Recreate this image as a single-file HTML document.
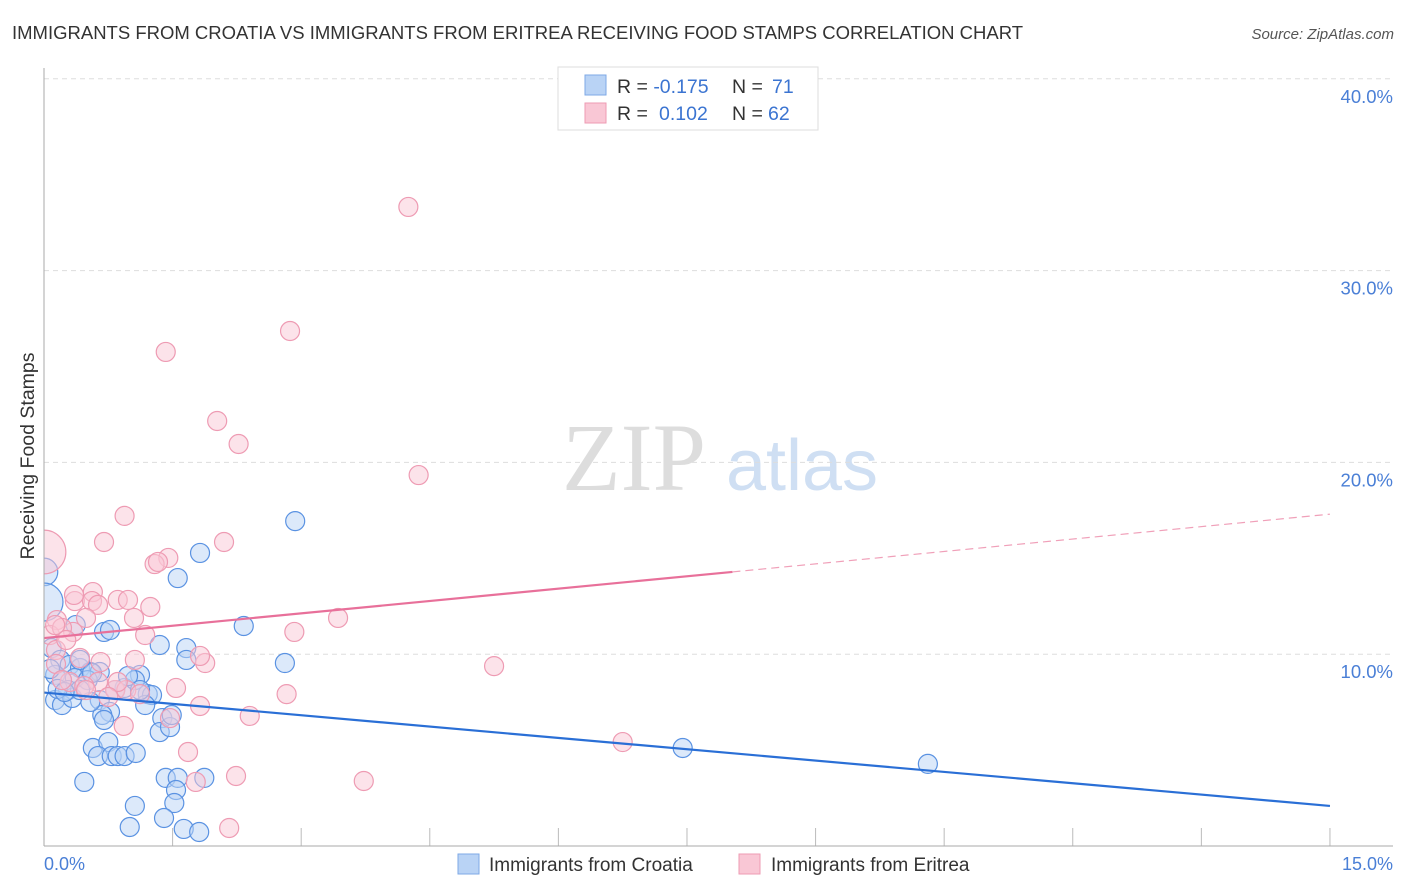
<!DOCTYPE html>
<html><head><meta charset="utf-8"><style>
body{margin:0;background:#fff;font-family:"Liberation Sans",sans-serif}
svg{display:block}
</style></head><body>
<svg id="c" width="1406" height="892" xmlns="http://www.w3.org/2000/svg">
<defs><clipPath id="plotclip"><rect x="44" y="60" width="1360" height="786"/></clipPath></defs>
<text x="12" y="39" font-size="18.5" fill="#333">IMMIGRANTS FROM CROATIA VS IMMIGRANTS FROM ERITREA RECEIVING FOOD STAMPS CORRELATION CHART</text>
<text x="1394" y="39" font-size="15" fill="#555" font-style="italic" text-anchor="end">Source: ZipAtlas.com</text>
<text x="634" y="490" font-size="96" font-family="Liberation Serif,serif" fill="#ddd" text-anchor="middle">ZIP</text>
<text x="802" y="490" font-size="72" fill="#cfdff3" text-anchor="middle">atlas</text>
<text transform="translate(34,456) rotate(-90)" font-size="19.5" fill="#333" text-anchor="middle">Receiving Food Stamps</text>
<g id="grid"></g><g id="pts" clip-path="url(#plotclip)"></g><g id="trend"></g>
<line x1="44" y1="68" x2="44" y2="846" stroke="#aaa"/>
<line x1="44" y1="846" x2="1393" y2="846" stroke="#aaa"/>
<text x="44" y="870" font-size="18" fill="#4a7fd6">0.0%</text>
<text x="1393" y="870" font-size="18" fill="#4a7fd6" text-anchor="end">15.0%</text>
<g>
<rect x="558" y="67" width="260" height="63" fill="#fff" stroke="#ddd"/>
<rect x="585" y="75" width="21" height="20" fill="#b9d3f5" stroke="#7ea8e6"/>
<rect x="585" y="103" width="21" height="20" fill="#f9c7d5" stroke="#ee9bb3"/>
<text x="617" y="93" font-size="19.5" fill="#333">R = <tspan fill="#3b74d1">-0.175</tspan><tspan x="732">N = </tspan><tspan x="772" fill="#3b74d1">71</tspan></text>
<text x="617" y="120" font-size="19.5" fill="#333">R = <tspan x="659" fill="#3b74d1">0.102</tspan><tspan x="732">N = </tspan><tspan x="768" fill="#3b74d1">62</tspan></text>
</g>
<g>
<rect x="458" y="854" width="21" height="20" fill="#b9d3f5" stroke="#7ea8e6"/>
<text x="489" y="871" font-size="19" fill="#333">Immigrants from Croatia</text>
<rect x="739" y="854" width="21" height="20" fill="#f9c7d5" stroke="#ee9bb3"/>
<text x="771" y="871" font-size="19" fill="#333">Immigrants from Eritrea</text>
</g>
</svg>
<script>
const yTicks=[10,20,30,40];
const xTickVals=[0,1.5,3,4.5,6,7.5,9,10.5,12,13.5,15];
const blueX=[0,0,2.93,1.82,1.56,2.33,1.35,1.66,1.66,2.81,7.45,10.31,0.09,0.19,0.30,0.42,0.54,0.65,0.13,0.21,0.36,0.51,0.28,0.13,0.21,0.65,0.77,1.21,1.26,1.12,0.94,0.70,0.77,0.37,0.42,0.56,1.18,1.38,1.35,0.68,0.70,0.57,0.75,0.63,0.79,0.86,0.94,1.07,0.47,1.06,1.42,1.56,1.87,1.54,1.52,1.40,1.00,1.63,1.81,0.54,0.33,0.16,0.42,1.06,0.98,1.47,0.07,0.24,0.83,1.12,1.49];
const blueY=[14.29,12.72,16.94,15.28,13.97,11.47,10.48,10.32,9.70,9.54,5.11,4.28,10.32,9.70,9.44,9.28,9.07,9.07,8.92,8.65,8.76,8.65,8.13,7.61,7.35,7.61,6.99,7.92,7.87,8.92,8.24,11.16,11.26,11.52,9.70,9.02,7.35,6.67,5.94,6.83,6.57,5.11,5.42,4.69,4.69,4.69,4.69,4.85,3.34,2.09,3.55,3.55,3.55,2.92,2.24,1.46,0.99,0.89,0.73,7.51,7.72,8.19,8.13,8.65,8.86,6.20,9.23,8.03,8.13,8.13,6.83];
const blueSize=[1.45,2.0];
const pinkX=[0,4.25,2.87,1.42,2.02,2.27,4.37,0.94,0.70,2.10,1.45,1.29,1.33,0.57,0.36,0.56,0.86,0.63,1.24,0.34,0.15,0.07,0.21,1.05,1.18,0.13,2.92,3.43,0.14,0.42,0.66,1.06,1.88,1.82,5.25,0.30,0.63,0.47,0.83,0.96,1.54,2.83,0.86,1.82,2.40,1.47,0.93,1.68,2.24,1.77,3.73,2.16,6.75,0.14,0.49,0.98,0.21,0.75,1.12,0.49,0.35,0.26];
const pinkY=[15.33,33.32,26.85,25.76,22.16,20.96,19.34,17.21,15.85,15.85,15.02,14.70,14.81,13.24,12.77,12.77,12.83,12.57,12.46,11.16,11.78,11.00,11.37,11.89,11.00,11.52,11.16,11.89,10.22,9.80,9.59,9.70,9.54,9.91,9.38,8.55,8.55,8.34,8.13,8.13,8.24,7.92,8.55,7.30,6.78,6.67,6.26,4.90,3.65,3.34,3.39,0.94,5.42,9.49,8.13,12.83,8.65,7.77,7.92,11.89,13.09,10.74];
const pinkSize=[2.3];
const blueTrend=[[0,8.0],[15,2.09]];
const pinkTrend=[[0,10.84],[8.03,14.29],[15,17.3]];
const NS='http://www.w3.org/2000/svg';
const X=v=>44+v*85.73, Y=v=>846-v*19.18;
function mk(t,a,p){const e=document.createElementNS(NS,t);for(const k in a)e.setAttribute(k,a[k]);p.appendChild(e);return e;}
const grid=document.getElementById('grid'),pts=document.getElementById('pts'),tr=document.getElementById('trend');
yTicks.forEach(v=>{
 const l=mk('line',{x1:44,x2:1393,y1:Y(v),y2:Y(v),stroke:'#ddd','stroke-dasharray':'5,4'},grid);
 
 
 const t=mk('text',{x:1393,y:Y(v)+24,'font-size':18.5,fill:'#4a7fd6','text-anchor':'end'},grid);
 t.textContent=v.toFixed(1)+'%';
 
 
});
xTickVals.forEach(v=>{
 const l=mk('line',{x1:X(v),x2:X(v),y1:828,y2:846,stroke:'#bbb'},grid);
 
 
});
function series(xs,ys,sz,fill,stroke,name){
 xs.forEach((x,i)=>{
  const r=9.5*(sz[i]||1);
  const c=mk('circle',{cx:X(x),cy:Y(ys[i]),r:r,fill:fill,'fill-opacity':0.5,stroke:stroke,'stroke-width':1.2},pts);
  
  
 });
}
series(blueX,blueY,blueSize,'#b9d3f5','#5a92e2','croatia-point');
series(pinkX,pinkY,pinkSize,'#f9c7d5','#ee9bb3','eritrea-point');
const bl=mk('line',{x1:X(blueTrend[0][0]),y1:Y(blueTrend[0][1]),x2:X(blueTrend[1][0]),y2:Y(blueTrend[1][1]),stroke:'#2a6fd6','stroke-width':2.2},tr);


const pl=mk('line',{x1:X(pinkTrend[0][0]),y1:Y(pinkTrend[0][1]),x2:X(pinkTrend[1][0]),y2:Y(pinkTrend[1][1]),stroke:'#e8709a','stroke-width':2.2},tr);


const pd=mk('line',{x1:X(pinkTrend[1][0]),y1:Y(pinkTrend[1][1]),x2:X(pinkTrend[2][0]),y2:Y(pinkTrend[2][1]),stroke:'#f0a0b9','stroke-width':1.2,'stroke-dasharray':'8,5'},tr);


</script>
</body></html>
